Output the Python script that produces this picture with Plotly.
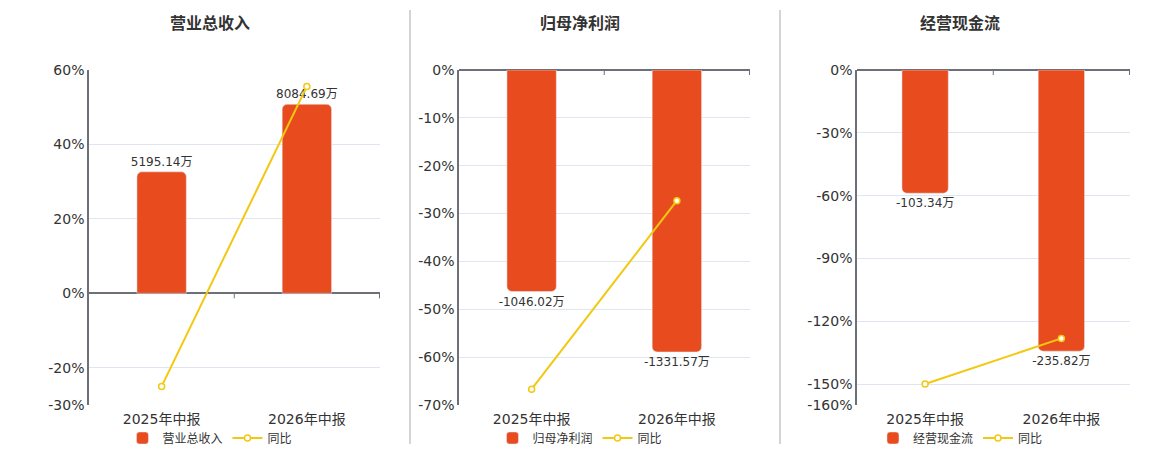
import plotly.graph_objects as go

# data
periods = ['2025年中报', '2026年中报']

titles = ['营业总收入', '归母净利润', '经营现金流']
amounts_rev = [5195.14, 8084.69]      # 万
amounts_profit = [-1046.02, -1331.57]
amounts_cash = [-103.34, -235.82]
yoy_rev = [-25.0, 55.6]               # %
yoy_profit = [-66.7, -27.3]
yoy_cash = [-150.0, -128.2]

# percent axis ticks per panel
ticks_rev = [-30, -20, 0, 20, 40, 60]
ticks_profit = [-70, -60, -50, -40, -30, -20, -10, 0]
ticks_cash = [-160, -150, -120, -90, -60, -30, 0]
# hidden amount axis ranges (zero lined up with the percent axis)
amount_range_rev = [-4775, 9550]
amount_range_profit = [-1582, 0]
amount_range_cash = [-281, 0]

BAR = '#E84C1E'
LINE = '#F2C811'
AXIS = '#6E7079'
GRID = '#E0E6F1'
TXT = '#333333'
FONT = 'DejaVu Sans, Noto Sans CJK SC, sans-serif'
CJK = 'Noto Sans CJK SC, DejaVu Sans, sans-serif'

panels = [
    (amounts_rev, yoy_rev, ticks_rev, amount_range_rev),
    (amounts_profit, yoy_profit, ticks_profit, amount_range_profit),
    (amounts_cash, yoy_cash, ticks_cash, amount_range_cash),
]
x_domains = [[89 / 1160, 380 / 1160], [459 / 1160, 750 / 1160], [857 / 1160, 1130 / 1160]]
title_x = [210, 580, 960]
legend_x = [0.181, 0.5, 0.828]
y_domain = [45 / 450, 380 / 450]

fig = go.Figure()
layout = {}
shapes = []
annotations = []

for i, (amounts, yoy, ticks, amt_range) in enumerate(panels):
    n = i + 1
    xa = 'x' if n == 1 else f'x{n}'
    ya_bar = 'y' if n == 1 else f'y{2 * n - 1}'
    ya_pct = f'y{2 * n}'
    leg = 'legend' if n == 1 else f'legend{n}'

    fig.add_trace(go.Bar(
        x=periods, y=amounts, name=titles[i],
        xaxis=xa, yaxis=ya_bar, legend=leg,
        marker=dict(color=BAR, cornerradius=5),
        width=0.34,
        text=[f'{v:.2f}万' for v in amounts],
        textposition='outside', cliponaxis=False, constraintext='none',
        textfont=dict(size=12, color=TXT, family=FONT),
    ))
    fig.add_trace(go.Scatter(
        x=periods, y=yoy, name='同比', mode='lines+markers',
        xaxis=xa, yaxis=ya_pct, legend=leg,
        line=dict(color=LINE, width=2),
        marker=dict(symbol='circle', size=6, color='white',
                    line=dict(color=LINE, width=1.5)),
    ))

    xkey = 'xaxis' if n == 1 else f'xaxis{n}'
    layout[xkey] = dict(
        domain=x_domains[i], anchor=ya_pct, showgrid=False, showline=False,
        ticks='', ticklabelstandoff=4,
        tickfont=dict(size=14, color=TXT, family=FONT),
        automargin=False, fixedrange=True,
    )
    layout['yaxis' if n == 1 else f'yaxis{2 * n - 1}'] = dict(
        domain=y_domain, anchor=xa, range=amt_range, visible=False,
        showgrid=False, zeroline=False, automargin=False,
    )
    layout[f'yaxis{2 * n}'] = dict(
        domain=y_domain, anchor=xa, overlaying=ya_bar,
        side='left', range=[min(ticks), max(ticks)],
        tickvals=ticks, ticktext=[f'{t}%' for t in ticks],
        tickfont=dict(size=14, color=TXT, family=FONT),
        showgrid=True, gridcolor=GRID, gridwidth=1,
        zeroline=True, zerolinecolor=AXIS, zerolinewidth=2,
        showline=True, linecolor=AXIS, linewidth=1.5, ticks='',
        automargin=False,
    )
    layout[leg] = dict(
        x=legend_x[i], y=12 / 450, xanchor='center', yanchor='middle',
        orientation='h', font=dict(size=12, color=TXT, family=CJK),
        bgcolor='rgba(0,0,0,0)', itemwidth=30,
    )

    # category boundary ticks under the zero line
    for k in range(1, len(periods) + 1):
        shapes.append(dict(
            type='line', xref=xa, yref=ya_pct, x0=k - 0.5, x1=k - 0.5,
            ysizemode='pixel', yanchor=0, y0=0, y1=-5,
            line=dict(color=AXIS, width=1),
        ))

    annotations.append(dict(
        text=f'<b>{titles[i]}</b>', xref='paper', yref='paper',
        x=title_x[i] / 1160, y=428 / 450,
        xanchor='center', yanchor='middle', showarrow=False,
        font=dict(size=16, color=TXT, family=CJK),
    ))

# panel separators
for xs in [410, 780]:
    shapes.append(dict(type='line', xref='paper', yref='paper',
                       x0=xs / 1160, x1=xs / 1160, y0=6 / 450, y1=440 / 450,
                       line=dict(color='#AAAAAA', width=1)))

fig.update_layout(
    width=1160, height=450,
    margin=dict(l=0, r=0, t=0, b=0, autoexpand=False),
    paper_bgcolor='white', plot_bgcolor='white',
    barmode='overlay',
    shapes=shapes, annotations=annotations,
    **layout,
)

fig.write_html('out.html', config={'displayModeBar': False},
               post_script="document.body.style.margin='0';")
